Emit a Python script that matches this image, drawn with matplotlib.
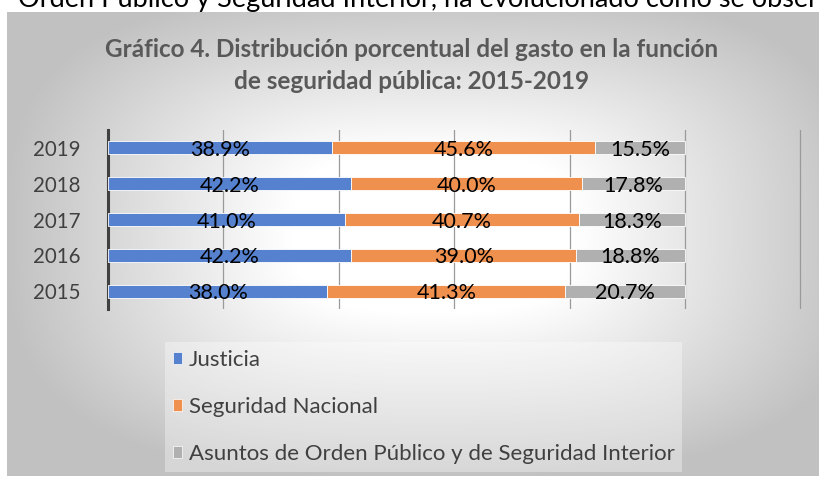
import numpy as np
import matplotlib
matplotlib.use("Agg")
import matplotlib.pyplot as plt
from matplotlib.patches import Patch

years = ["2015", "2016", "2017", "2018", "2019"]
justicia = [38.0, 42.2, 41.0, 42.2, 38.9]
seguridad = [41.3, 39.0, 40.7, 40.0, 45.6]
asuntos = [20.7, 18.8, 18.3, 17.8, 15.5]
series_names = ["Justicia", "Seguridad Nacional",
                "Asuntos de Orden Público y de Seguridad Interior"]
colors = ["#5681CF", "#F0904E", "#B0B0B0"]
title_l1 = "Gráfico 4. Distribución porcentual del gasto en la función"
title_l2 = "de seguridad pública: 2015-2019"
top_text = "Orden Público y Seguridad Interior, ha evolucionado como se observa en el siguiente gráfico"
top_visible = "Orden Público y Seguridad Interior, ha evolucionado como se obser"

FONT = ["Lato", "DejaVu Sans"]
plt.rcParams['font.family'] = FONT

W, H = 820, 478
fig = plt.figure(figsize=(W / 100, H / 100), dpi=100)
fig.patch.set_facecolor("white")

# background chart area with gradient
x0, y0, x1, y1 = 7, 12, 820, 476
bg = fig.add_axes([x0 / W, 1 - y1 / H, (x1 - x0) / W, (y1 - y0) / H])
gx = np.linspace(-1, 1, 400)
gy = np.linspace(-1, 1, 240)
GX, GY = np.meshgrid(gx, gy)
p = 3.0
R = (np.abs(GX - 0.05) ** p + np.abs(GY + 0.05) ** p) ** (1 / p)
t = np.clip((R - 0.35) / 0.7, 0, 1)
val = 1 - 0.24 * t
img = np.dstack([val, val, val])
bg.imshow(img, aspect="auto", extent=[0, 1, 0, 1], interpolation="bilinear")
bg.set_axis_off()

# partial text at top (fit size so visible part spans to right edge)
renderer = fig.canvas.get_renderer()
probe = fig.text(0, 0.5, top_visible, fontsize=20)
wpx = probe.get_window_extent(renderer).width
probe.remove()
fs_top = 20 * (W - 18) / wpx
fig.text(18 / W, 1 - 6.5 / H, top_text, fontsize=fs_top, color="black",
         ha="left", va="baseline")

# bar axes
px_l, px_r = 108, 802
py_t, py_b = 130, 309
ax = fig.add_axes([px_l / W, 1 - py_b / H, (px_r - px_l) / W, (py_b - py_t) / H])
ax.patch.set_alpha(0)
ypos = np.arange(len(years))
left = np.zeros(len(years))
for vals, c, name in zip([justicia, seguridad, asuntos], colors, series_names):
    vals = np.array(vals)
    ax.barh(ypos, vals, left=left, height=0.36, color=c,
            edgecolor="white", linewidth=0.6, label=name, zorder=3)
    for yi, (l, v) in enumerate(zip(left, vals)):
        ax.text(l + v / 2, yi - 0.06, f"{v:.1f}%", ha="center", va="center",
                fontsize=15.5, color="black", zorder=4)
    left = left + vals

ax.set_xlim(0, 120.3)
ax.set_ylim(-0.5, 4.5)
ax.set_xticks([20, 40, 60, 80, 100, 120])
ax.set_xticklabels([])
ax.tick_params(axis="x", length=0)
ax.grid(axis="x", color="#9a9a9a", linewidth=0.9, zorder=0)
ax.set_yticks(ypos)
ax.set_yticklabels(years, fontsize=14.8, color="#404040")
ax.tick_params(axis="y", length=0, pad=20)
for s in ["top", "right", "bottom"]:
    ax.spines[s].set_visible(False)
ax.spines["left"].set_color("#404040")
ax.spines["left"].set_linewidth(2.2)

# title
fig.text(412 / W, 1 - 57 / H, title_l1, fontsize=17.5, fontweight="bold",
         color="#595959", ha="center", va="baseline")
fig.text(412 / W, 1 - 89 / H, title_l2, fontsize=17.5, fontweight="bold",
         color="#595959", ha="center", va="baseline")

# legend
handles = [Patch(facecolor=c, edgecolor="white", linewidth=0.5) for c in colors]
leg = fig.legend(handles, series_names, loc="upper left",
                 bbox_to_anchor=(165 / W, 1 - 342 / H), frameon=True,
                 fontsize=16, labelspacing=1.22, handlelength=0.42,
                 handleheight=0.42, handletextpad=0.3, borderpad=0.35,
                 borderaxespad=0)
leg.get_frame().set_facecolor("white")
leg.get_frame().set_alpha(0.35)
leg.get_frame().set_edgecolor("none")
leg.get_frame().set_boxstyle("square", pad=0)
for txt in leg.get_texts():
    txt.set_color("#404040")

fig.savefig("out.png", dpi=100)
